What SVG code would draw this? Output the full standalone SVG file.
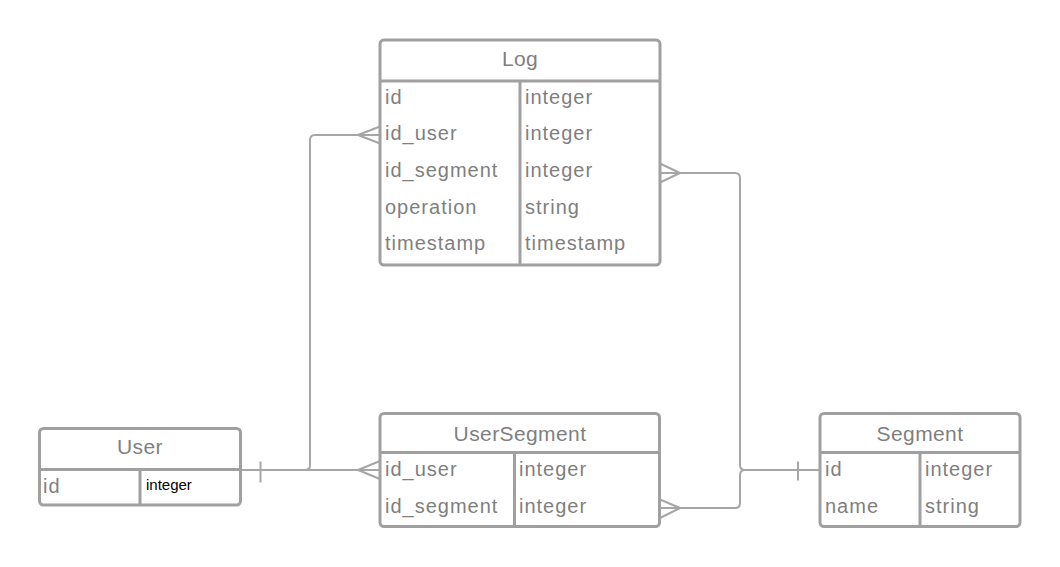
<svg xmlns="http://www.w3.org/2000/svg" width="1060" height="567" viewBox="0 0 1060 567">
<style>
.box{fill:#ffffff;stroke:#a0a0a0;stroke-width:3}
.div{stroke:#a0a0a0;stroke-width:3;fill:none}
.con{stroke:#a6a6a6;stroke-width:2;fill:none}
.hd{font-family:"Liberation Sans",Arial,sans-serif;font-size:21px;fill:#7f7f7f;letter-spacing:0.4px;text-anchor:middle}
.tx{font-family:"Liberation Sans",Arial,sans-serif;font-size:20px;fill:#7f7f7f;letter-spacing:1px}
.bk{font-family:"Liberation Sans",Arial,sans-serif;font-size:15px;fill:#000000}
</style>
<rect width="1060" height="567" fill="#ffffff"/>
<g id="connectors">
  <path class="con" d="M240,470 H305 Q310,470 310,465 V140 Q310,135 315,135 H380"/>
  <path class="con" d="M358,135 L380,126.5 M358,135 L380,143.5"/>
  <path class="con" d="M240,470 H380"/>
  <path class="con" d="M358,470 L380,461 M358,470 L380,479"/>
  <path class="con" d="M260.5,461.5 V482.5"/>
  <path class="con" d="M660,173 H735 Q740,173 740,178 V465 Q740,470 745,470 H820"/>
  <path class="con" d="M680,173 L660,163.5 M680,173 L660,182.5"/>
  <path class="con" d="M660,508 H735 Q740,508 740,503 V475 Q740,470 745,470"/>
  <path class="con" d="M680,508 L660,499.5 M680,508 L660,518"/>
  <path class="con" d="M798,461.5 V480.5"/>
</g>
<g id="log">
  <rect class="box" x="380" y="40" width="280" height="225" rx="4"/>
  <path class="div" d="M380,81 H660 M520,81 V265"/>
  <text class="hd" x="520" y="66">Log</text>
  <text class="tx" x="385" y="104">id</text><text class="tx" x="525" y="104">integer</text>
  <text class="tx" x="385" y="140">id_user</text><text class="tx" x="525" y="140">integer</text>
  <text class="tx" x="385" y="177">id_segment</text><text class="tx" x="525" y="177">integer</text>
  <text class="tx" x="385" y="214">operation</text><text class="tx" x="525" y="214">string</text>
  <text class="tx" x="385" y="250">timestamp</text><text class="tx" x="525" y="250">timestamp</text>
</g>
<g id="user">
  <rect class="box" x="39.5" y="428.5" width="201" height="76.5" rx="4"/>
  <path class="div" d="M39.5,469.5 H240.5 M140,469.5 V505"/>
  <text class="hd" x="140" y="454">User</text>
  <text class="tx" x="43" y="493">id</text>
  <text class="bk" x="146" y="490">integer</text>
</g>
<g id="usersegment">
  <rect class="box" x="380" y="413.5" width="279.5" height="113" rx="4"/>
  <path class="div" d="M380,452.5 H659.5 M514.5,452.5 V526.5"/>
  <text class="hd" x="520" y="441">UserSegment</text>
  <text class="tx" x="385" y="476">id_user</text><text class="tx" x="519" y="476">integer</text>
  <text class="tx" x="385" y="513">id_segment</text><text class="tx" x="519" y="513">integer</text>
</g>
<g id="segment">
  <rect class="box" x="820" y="413.5" width="200" height="113" rx="4"/>
  <path class="div" d="M820,452.5 H1020 M920,452.5 V526.5"/>
  <text class="hd" x="920" y="441">Segment</text>
  <text class="tx" x="825" y="476">id</text><text class="tx" x="925" y="476">integer</text>
  <text class="tx" x="825" y="513">name</text><text class="tx" x="925" y="513">string</text>
</g>
</svg>
